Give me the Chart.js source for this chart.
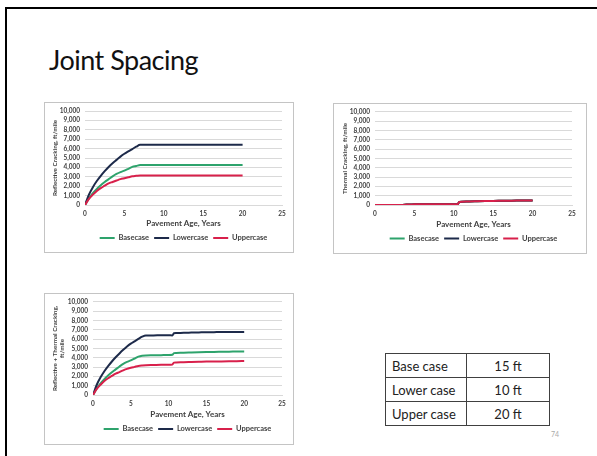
<!DOCTYPE html>
<html>
<head>
<meta charset="utf-8">
<script src="https://cdn.jsdelivr.net/npm/chart.js@4.4.1/dist/chart.umd.min.js"></script>
<style>
  html, body { margin: 0; padding: 0; background: #fff; }
  body { width: 597px; height: 456px; position: relative; overflow: hidden; font-family: Lato, "Open Sans", sans-serif; }
  .rule-top { position: absolute; left: 5px; top: 7px; width: 592px; height: 2px; background: #000; }
  .rule-left { position: absolute; left: 5px; top: 7px; width: 2px; height: 449px; background: #000; }
  h1 { position: absolute; left: 49px; top: 42px; margin: 0; font-weight: 400; font-size: 27px; letter-spacing: -0.5px; line-height: 36px; color: #111; }
  .box { position: absolute; border: 1px solid #c4c4c4; box-sizing: border-box; }
  .box canvas { position: absolute; left: -1px; top: -1px; }
  table.spacing { position: absolute; left: 385px; top: 353px; width: 165px; height: 71px; border-collapse: collapse; font-size: 13px; color: #222; }
  table.spacing td { border: 1px solid #404040; padding: 0 6px; height: 23px; }
  table.spacing td.v { text-align: center; width: 70px; }
  .pageno { position: absolute; left: 551px; top: 430px; font-size: 7px; color: #aaa; }
</style>
</head>
<body>
<div class="rule-top"></div>
<div class="rule-left"></div>
<h1>Joint Spacing</h1>

<div class="box" style="left:44px;top:102px;width:250px;height:151px;"><canvas id="refl"></canvas></div>
<div class="box" style="left:333px;top:103px;width:254px;height:151px;"><canvas id="therm"></canvas></div>
<div class="box" style="left:44px;top:293px;width:250px;height:152px;"><canvas id="combo"></canvas></div>

<table class="spacing">
  <tr><td>Base case</td><td class="v">15 ft</td></tr>
  <tr><td>Lower case</td><td class="v">10 ft</td></tr>
  <tr><td>Upper case</td><td class="v">20 ft</td></tr>
</table>
<div class="pageno">74</div>

<script>
// Pavement age (years) for every series
const years = [0,0.5,1,1.5,2,2.5,3,3.5,4,4.5,5,5.5,6,6.5,7,8,9,10,10.5,10.7,11,12,13,14,15,16,17,18,19,20];

// Reflective cracking, ft/mile
const reflBase  = [0,700,1250,1700,2100,2450,2750,3050,3300,3500,3650,3850,4050,4150,4250,4250,4250,4250,4250,4250,4250,4250,4250,4250,4250,4250,4250,4250,4250,4250];
const reflLower = [0,1100,1900,2550,3100,3600,4050,4450,4800,5150,5450,5700,5950,6200,6400,6400,6400,6400,6400,6400,6400,6400,6400,6400,6400,6400,6400,6400,6400,6400];
const reflUpper = [0,650,1100,1500,1800,2050,2300,2450,2600,2750,2850,2950,3050,3100,3150,3150,3150,3150,3150,3150,3150,3150,3150,3150,3150,3150,3150,3150,3150,3150];

// Thermal cracking, ft/mile (same for the three joint spacings)
const thermal = [0,0,0,0,0,0,0,10,50,60,70,70,70,70,70,80,80,80,90,330,350,380,400,420,440,450,460,470,475,480];

// Reflective + thermal cracking, ft/mile
const comboBase  = [0,700,1250,1700,2100,2450,2750,3060,3350,3560,3720,3920,4120,4220,4250,4260,4280,4300,4320,4500,4520,4550,4570,4590,4610,4630,4640,4650,4670,4680];
const comboLower = [0,1100,1900,2550,3100,3600,4050,4460,4850,5210,5520,5770,6020,6270,6400,6400,6410,6410,6400,6630,6650,6680,6700,6720,6740,6750,6760,6765,6770,6780];
const comboUpper = [0,650,1100,1500,1800,2050,2300,2460,2650,2810,2920,3020,3120,3170,3200,3220,3240,3250,3270,3480,3500,3530,3550,3570,3590,3600,3610,3620,3630,3650];

const seriesNames = ['Basecase', 'Lowercase', 'Uppercase'];
const seriesColors = ['#2ea36c', '#1d2a4a', '#d8204b'];
const xTicks = [0, 5, 10, 15, 20, 25];
const yMax = 10000;
const xTitle = 'Pavement Age, Years';

const axisFont = { family: 'Lato', size: 6.5, weight: 'bold' };
const titleFont = { family: 'Lato', size: 8, weight: 'bold' };
const legendFontSize = 7.5;
const textColor = '#404040';

function pts(vals) { return years.map((x, i) => ({ x, y: vals[i] })); }

function makeChart(id, W, H, geo, yTitle, seriesVals) {
  const cv = document.getElementById(id);
  const legendPad = 5;
  const legendH = legendFontSize + legendPad + 10;
  const legendTop = geo.legendY - legendPad - legendFontSize / 2;
  const xh = legendTop - geo.bottom;
  const padBottom = H - legendTop - legendH;
  const padLeft = 4;
  new Chart(cv, {
    type: 'line',
    data: {
      datasets: seriesVals.map((vals, i) => ({
        label: seriesNames[i],
        data: pts(vals),
        borderColor: seriesColors[i],
        backgroundColor: seriesColors[i],
        borderWidth: 2,
        pointRadius: 0,
        cubicInterpolationMode: 'monotone',
        order: 2 - i
      }))
    },
    options: {
      responsive: false,
      animation: false,
      devicePixelRatio: 1,
      layout: { padding: { left: padLeft, top: geo.top, right: W - geo.right, bottom: padBottom } },
      scales: {
        x: {
          type: 'linear', min: 0, max: 25,
          afterBuildTicks: (s) => { s.ticks = xTicks.map(v => ({ value: v })); },
          afterFit: (s) => { s.height = xh; },
          grid: { display: false, drawTicks: false },
          border: { display: true, color: '#d9d9d9' },
          ticks: { font: axisFont, color: textColor, padding: 5, maxRotation: 0, autoSkip: false },
          title: { display: true, text: xTitle, font: { ...titleFont, lineHeight: 1.1 }, color: textColor, padding: { top: 0, bottom: 1 } }
        },
        y: {
          min: 0, max: yMax,
          afterFit: (s) => { s.width = geo.left - padLeft; },
          ticks: { stepSize: 1000, autoSkip: false, font: axisFont, color: textColor, padding: 5,
                   callback: (v) => v.toLocaleString('en-US') },
          grid: { color: '#d9d9d9', drawTicks: false },
          border: { display: false },
          title: { display: true, text: yTitle, font: { family: 'Lato', size: 6.3, weight: 'bold', lineHeight: 1.1 },
                   color: textColor, padding: { top: geo.yTitlePad, bottom: 0 } }
        }
      },
      plugins: {
        legend: {
          position: 'bottom',
          fullSize: false,
          labels: {
            font: { family: 'Lato', size: legendFontSize, weight: 'bold' }, color: textColor,
            boxWidth: 15, boxHeight: 2, padding: legendPad,
            sort: (a, b) => a.datasetIndex - b.datasetIndex,
            generateLabels: (chart) => Chart.defaults.plugins.legend.labels.generateLabels(chart)
              .map(item => Object.assign(item, { lineWidth: 0 }))
          }
        },
        tooltip: { enabled: false }
      }
    }
  });
  cv.style.width = W + 'px';
  cv.style.height = H + 'px';
}

function sizeCanvas(id, W, H) {
  const cv = document.getElementById(id);
  cv.width = W; cv.height = H;
}

sizeCanvas('refl', 250, 151);
sizeCanvas('therm', 254, 151);
sizeCanvas('combo', 250, 152);

makeChart('refl', 250, 151, { left: 41, right: 238, top: 9, bottom: 103, legendY: 136, yTitlePad: 3.5 },
  'Reflective Cracking, ft/mile', [reflBase, reflLower, reflUpper]);
makeChart('therm', 254, 151, { left: 42, right: 239, top: 8, bottom: 102, legendY: 135.5, yTitlePad: 4.5 },
  'Thermal Cracking, ft/mile', [thermal, thermal, thermal]);
makeChart('combo', 250, 152, { left: 49, right: 238, top: 8, bottom: 102, legendY: 136, yTitlePad: 3.5 },
  ['Reflective + Thermal Cracking,', 'ft/mile'], [comboBase, comboLower, comboUpper]);
</script>
</body>
</html>
